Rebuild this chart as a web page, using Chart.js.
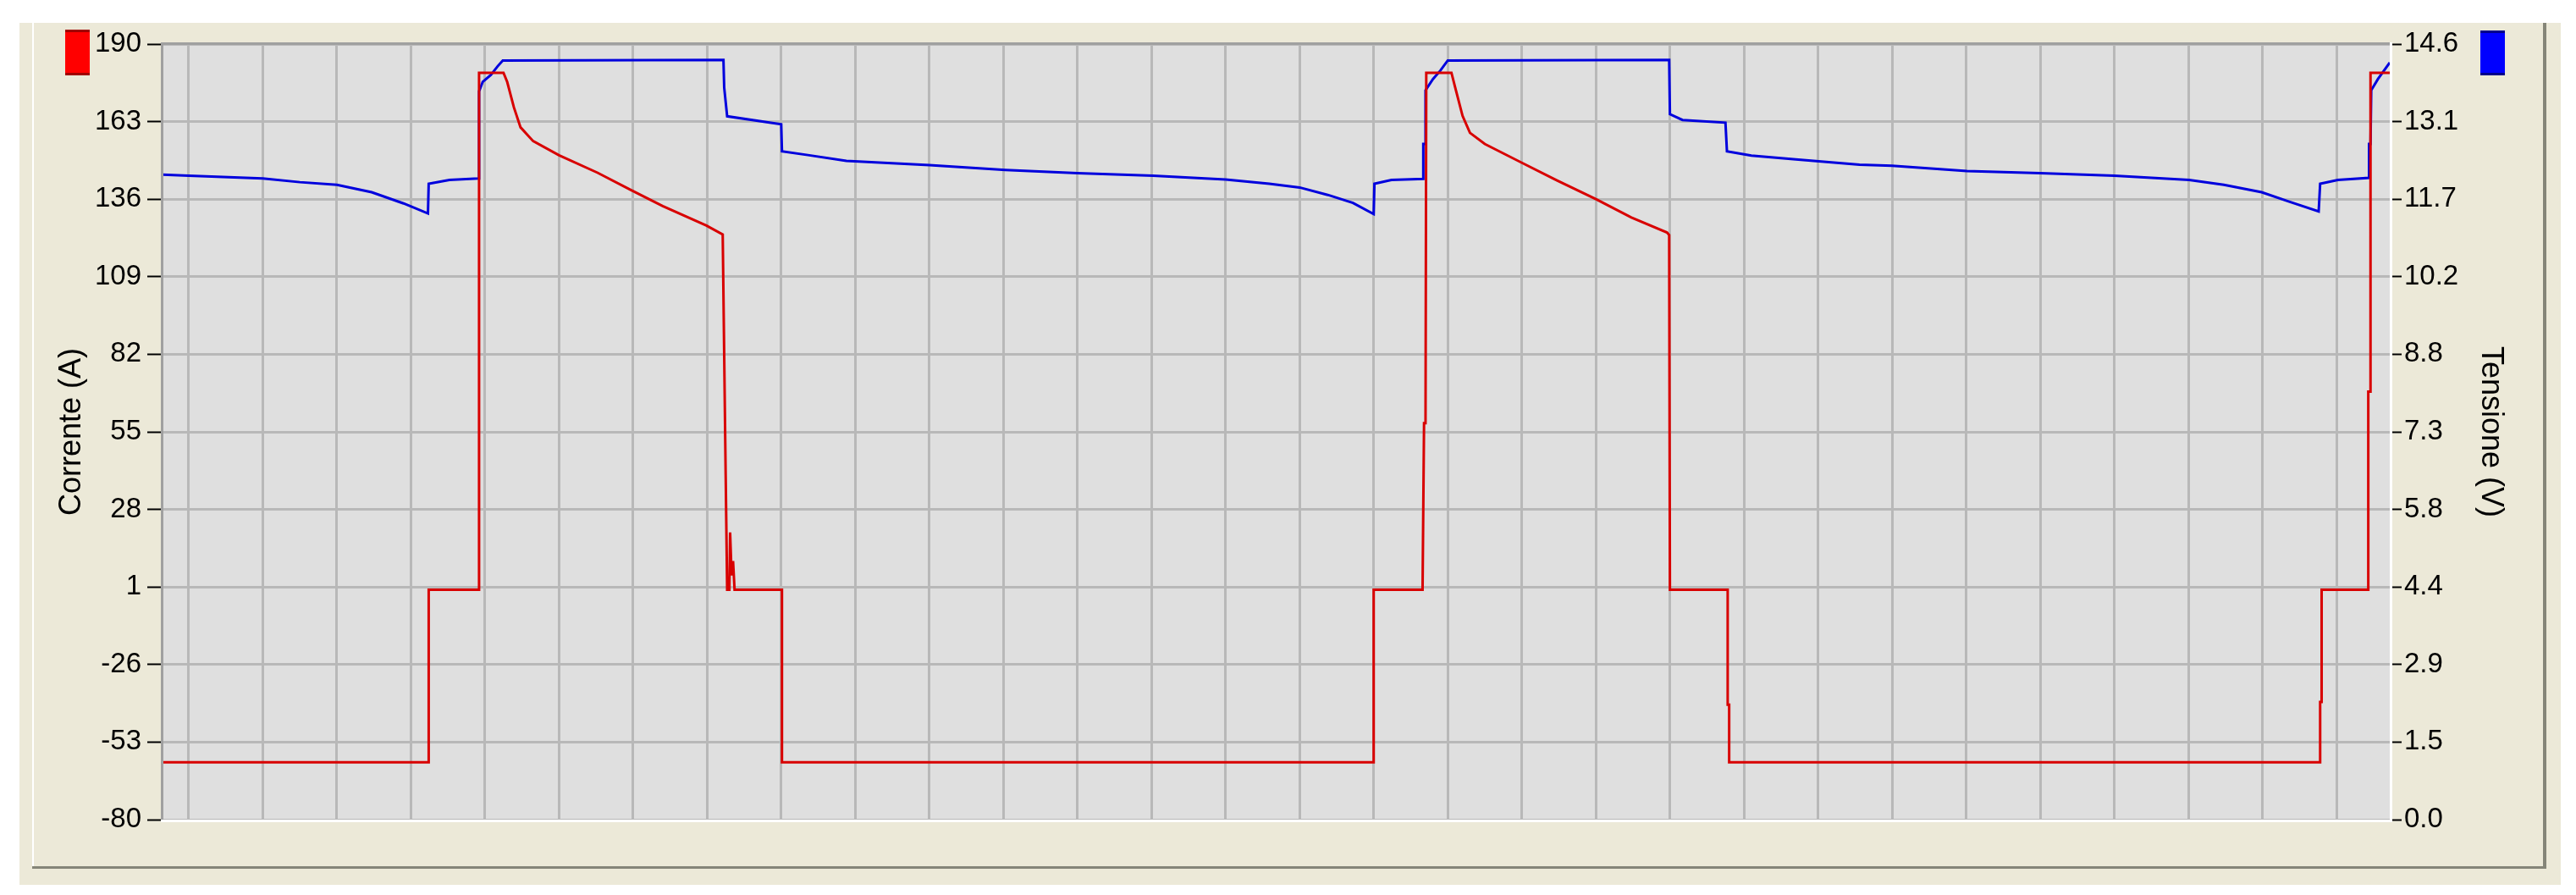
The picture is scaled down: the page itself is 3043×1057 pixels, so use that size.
<!DOCTYPE html>
<html>
<head>
<meta charset="utf-8">
<script src="https://cdn.jsdelivr.net/npm/chart.js@4"></script>
<style>
  html, body { margin: 0; padding: 0; background: #ffffff; }
  canvas { display: block; }
</style>
</head>
<body>
<canvas id="myChart" width="3043" height="1057"></canvas>
<script>
// tempo in divisioni di griglia
var correnteT = [-0.354, 3.24, 3.24, 3.91, 3.92, 4.25, 4.30, 4.39, 4.48, 4.65, 5.0, 5.52, 5.97, 6.40, 6.99, 7.21,
  7.25, 7.27, 7.30, 7.31, 7.33, 7.35, 7.37, 8.01, 8.01,
  16.0, 16.0, 16.66, 16.68, 16.70, 16.71, 17.05, 17.1, 17.2, 17.3, 17.5, 17.99, 18.47, 19.0, 19.48, 19.96, 19.99,
  20.0, 20.78, 20.78, 20.80, 20.80,
  28.78, 28.78, 28.80, 28.80, 29.43, 29.43, 29.46, 29.46, 29.72];
var correnteA = [-60, -60, 0, 0, 180, 180, 176.8, 168, 161, 156.2, 151.3, 145.2, 139.2, 133.6, 126.8, 123.7,
  40, 0, 0, 20, 5, 10, 0, 0, -60,
  -60, 0, 0, 58, 58, 180, 180, 174.9, 165, 159.1, 155.2, 148.8, 142.6, 136.0, 129.6, 124.4, 123.5,
  0, 0, -40, -40, -60,
  -60, -39, -39, 0, 0, 69, 69, 180, 180];

var tensioneT = [-0.354, 0, 1, 1.5, 2.0, 2.47, 2.90, 3.23, 3.24, 3.52, 3.91, 3.92, 3.97, 4.08, 4.17, 4.24,
  7.22, 7.23, 7.27, 8.0, 8.01, 8.36, 8.88, 10.0, 11.03, 12.0, 13.02, 14.0, 14.59, 15.0, 15.38, 15.72, 16.0,
  16.01, 16.24, 16.67, 16.67, 16.69, 16.70, 16.8, 16.9, 17.0,
  19.99, 20.0, 20.17, 20.75, 20.77, 21.1, 21.7, 22.56, 23.0, 24.01, 25.0, 26.0, 27.01, 27.48, 27.99, 28.37, 28.76,
  28.78, 29.02, 29.44, 29.44, 29.46, 29.47, 29.56, 29.72];
var tensioneV = [12.14, 12.12, 12.07, 12.0, 11.95, 11.81, 11.6, 11.41, 11.97, 12.04, 12.07, 13.71, 13.89, 14.02, 14.18, 14.29,
  14.30, 13.78, 13.24, 13.09, 12.58, 12.51, 12.40, 12.32, 12.23, 12.17, 12.12, 12.05, 11.97, 11.90, 11.76, 11.61, 11.40,
  11.97, 12.04, 12.06, 12.72, 12.72, 13.73, 13.94, 14.1, 14.29,
  14.30, 13.28, 13.17, 13.12, 12.58, 12.5, 12.43, 12.33, 12.31, 12.21, 12.17, 12.12, 12.04, 11.95, 11.81, 11.63, 11.45,
  11.97, 12.04, 12.08, 12.72, 12.72, 13.73, 13.94, 14.25];

// griglia verticale
var grigliaX = [];
for (var k = 0; k <= 29; k++) grigliaX.push(k);

var fontTick = "'Liberation Sans Narrow', 'Liberation Sans', Arial, sans-serif";

function toPoints(t, v) {
  var out = [];
  for (var i = 0; i < t.length; i++) out.push({ x: t[i], y: v[i] });
  return out;
}

var sfondo = {
  id: "sfondo",
  beforeDraw: function (chart) {
    var c = chart.ctx;
    var a = chart.chartArea;
    c.save();
    c.fillStyle = "#ffffff";
    c.fillRect(0, 0, chart.width, chart.height);
    c.fillStyle = "#ECE9D8";
    c.fillRect(23, 27, 3002, 1018);
    // cornice
    c.fillStyle = "#ffffff";
    c.fillRect(38, 27, 2, 998);
    c.fillStyle = "#858578";
    c.fillRect(38, 1023, 2970, 3);
    c.fillRect(3004, 27, 4, 999);
    // area grafico
    c.fillStyle = "#DFDFDF";
    c.fillRect(a.left, a.top, a.right - a.left, a.bottom - a.top);
    c.restore();
  },
  afterDraw: function (chart) {
    var c = chart.ctx;
    var a = chart.chartArea;
    c.save();
    c.fillStyle = "#A0A0A0";
    c.fillRect(a.left - 2, a.top - 2, a.right - a.left + 2, 3);
    c.fillRect(a.left - 2, a.top - 2, 3, a.bottom - a.top + 2);
    c.fillStyle = "#ffffff";
    c.fillRect(a.left - 2, a.bottom, a.right - a.left + 4, 3);
    c.fillRect(a.right, a.top - 2, 3, a.bottom - a.top + 5);
    // quadratini colore
    c.fillStyle = "#FF0000";
    c.fillRect(77, 35, 29, 54);
    c.fillStyle = "#A00000";
    c.fillRect(77, 35, 29, 3);
    c.fillRect(77, 86, 29, 3);
    c.fillStyle = "#0000FF";
    c.fillRect(2930, 36, 29, 53);
    c.fillStyle = "#00008B";
    c.fillRect(2930, 36, 29, 3);
    c.fillRect(2930, 86, 29, 3);
    c.restore();
  }
};

var ctx = document.getElementById("myChart").getContext("2d");
var chart = new Chart(ctx, {
  type: "line",
  data: {
    datasets: [
      {
        label: "Corrente (A)",
        data: toPoints(correnteT, correnteA),
        borderColor: "#D80000",
        borderWidth: 3,
        pointRadius: 0,
        tension: 0,
        yAxisID: "yA",
      },
      {
        label: "Tensione (V)",
        data: toPoints(tensioneT, tensioneV),
        borderColor: "#0000DD",
        borderWidth: 3,
        pointRadius: 0,
        tension: 0,
        yAxisID: "yV",
      },
    ],
  },
  options: {
    responsive: false,
    animation: false,
    devicePixelRatio: 1,
    layout: { padding: { left: 0, right: 0, top: 52, bottom: 89 } },
    plugins: { legend: { display: false }, tooltip: { enabled: false } },
    scales: {
      x: {
        type: "linear",
        min: -0.354,
        max: 29.72,
        afterBuildTicks: function (axis) {
          axis.ticks = grigliaX.map(function (v) { return { value: v }; });
        },
        afterFit: function (axis) { axis.height = 0; },
        ticks: { display: false },
        border: { display: false },
        grid: { color: "#B8B8B8", lineWidth: 3, drawTicks: false },
      },
      yA: {
        type: "linear",
        position: "left",
        min: -80,
        max: 190,
        afterFit: function (axis) { axis.width = 192; },
        ticks: {
          stepSize: 27,
          color: "#000000",
          padding: 7,
          font: { family: fontTick, size: 33 },
        },
        border: { display: false },
        grid: { color: "#B8B8B8", lineWidth: 3, tickColor: "#000000", tickLength: 18, tickWidth: 2 },
        title: {
          display: true,
          text: "Corrente (A)",
          color: "#000000",
          font: { family: fontTick, size: 36 },
          padding: { top: 63, bottom: 0 },
        },
      },
      yV: {
        type: "linear",
        position: "right",
        min: 0,
        max: 14.6,
        afterFit: function (axis) { axis.width = 220; },
        ticks: {
          stepSize: 1.46,
          color: "#000000",
          padding: 3,
          font: { family: fontTick, size: 33 },
          callback: function (v) { return Number(v).toFixed(1); },
        },
        border: { display: false },
        grid: { drawOnChartArea: false, tickColor: "#000000", tickLength: 14, tickWidth: 2 },
        title: {
          display: true,
          text: "Tensione (V)",
          color: "#000000",
          font: { family: fontTick, size: 36 },
          padding: { top: 79, bottom: 0 },
        },
      },
    },
  },
  plugins: [sfondo],
});
</script>
</body>
</html>
